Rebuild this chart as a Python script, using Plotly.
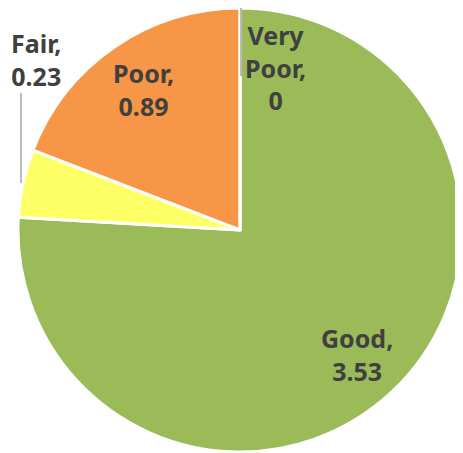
import math
import plotly.graph_objects as go

categories = ["Good", "Fair", "Poor", "Very Poor"]
values = [3.53, 0.23, 0.89, 0]
colors = ["#9BBB59", "#FFFF66", "#F79646", "#4F81BD"]

OFF = 8  # default page body margin
W, H = 463 - OFF, 453 - OFF
CX, CY, R = 240, 230, 222  # pie centre / radius in window pixels


def px(x):
    return (x - OFF) / W


def py(y):
    return 1 - (y - OFF) / H


fig = go.Figure(go.Pie(
    labels=categories,
    values=values,
    marker=dict(colors=colors, line=dict(color="white", width=3)),
    sort=False,
    direction="clockwise",
    rotation=0,
    textinfo="none",
    showlegend=False,
    domain=dict(x=[px(CX - R), px(CX + R)], y=[py(CY + R), py(CY - R)]),
))

font = dict(family="Noto Sans", size=25, color="#404040")
total = sum(values)


def label_text(cat, v):
    return cat.replace(" ", "<br>") + ",<br>" + f"{v:g}"


annotations = []
cum = 0
for cat, v in zip(categories, values):
    mid = (cum + v / 2) / total
    cum += v
    theta = 2 * math.pi * mid
    if v / total > 0.1:
        r = 0.77 * R
        x = CX + r * math.sin(theta)
        y = CY - r * math.cos(theta)
        annotations.append(dict(x=px(x), y=py(y), xref="paper", yref="paper",
                                xanchor="center", yanchor="middle",
                                text="<b>" + label_text(cat, v) + "</b>",
                                showarrow=False, font=font, align="center"))

# outside labels with leader lines
outside = {"Fair": (36, 59), "Very Poor": (275, 67)}
for cat, v in zip(categories, values):
    if cat in outside:
        x, y = outside[cat]
        annotations.append(dict(x=px(x), y=py(y), xref="paper", yref="paper",
                                xanchor="center", yanchor="middle",
                                text="<b>" + label_text(cat, v) + "</b>",
                                showarrow=False, font=font, align="center"))

shapes = [
    dict(type="line", xref="paper", yref="paper", x0=px(21), x1=px(21), y0=py(93), y1=py(183),
         line=dict(color="#A6A6A6", width=1.5)),
    dict(type="line", xref="paper", yref="paper", x0=px(241), x1=px(241), y0=py(7), y1=py(76),
         line=dict(color="#A6A6A6", width=1.5)),
]

fig.update_layout(
    width=W, height=H,
    margin=dict(l=0, r=0, t=0, b=0),
    paper_bgcolor="white", plot_bgcolor="white",
    annotations=annotations, shapes=shapes,
)

fig.write_html("out.html")
